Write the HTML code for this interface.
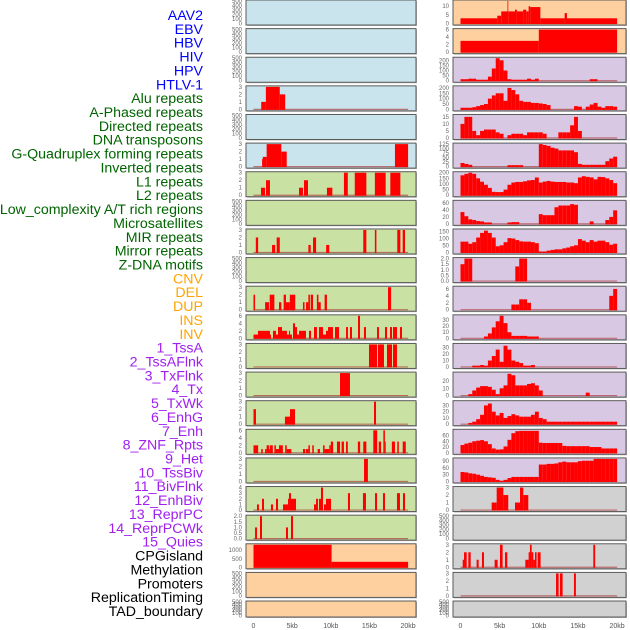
<!DOCTYPE html>
<html><head><meta charset="utf-8">
<style>
html,body{margin:0;padding:0;background:#fff;}
svg{display:block;}
text{font-family:"Liberation Sans",sans-serif;}
</style></head>
<body>
<svg id="chart" width="630" height="630" viewBox="0 0 630 630" xmlns="http://www.w3.org/2000/svg"></svg>
<script>
// ---- labels ----
const labelNames = ["AAV2","EBV","HBV","HIV","HPV","HTLV-1","Alu repeats","A-Phased repeats","Directed repeats","DNA transposons","G-Quadruplex forming repeats","Inverted repeats","L1 repeats","L2 repeats","Low_complexity A/T rich regions","Microsatellites","MIR repeats","Mirror repeats","Z-DNA motifs","CNV","DEL","DUP","INS","INV","1_TssA","2_TssAFlnk","3_TxFlnk","4_Tx","5_TxWk","6_EnhG","7_Enh","8_ZNF_Rpts","9_Het","10_TssBiv","11_BivFlnk","12_EnhBiv","13_ReprPC","14_ReprPCWk","15_Quies","CPGisland","Methylation","Promoters","ReplicationTiming","TAD_boundary"];
const labelGroups = [6,13,5,15,5];
const groupColors = ["#0000ff","#006400","#ffa500","#a020f0","#000000"];

// ---- left column (segments: [startKb, endKb, value]) ----
const leftBg = ["b","b","b","b","b","b","g","g","g","g","g","g","g","g","g","g","g","g","g","o","o","o"];
const leftMax = [500,500,500,3,500,3,3,500,3,500,3,6,3,3,3,6,3,4,2,1320,500,500];
const leftTicks = [[0,100,200,300,400,500],[0,100,200,300,400,500],[0,100,200,300,400,500],[0,1,2,3],[0,100,200,300,400,500],[0,1,2,3],[0,1,2,3],[0,100,200,300,400,500],[0,1,2,3],[0,100,200,300,400,500],[0,1,2,3],[0,2,4,6],[0,1,2,3],[0,1,2,3],[0,1,2,3],[0,2,4,6],[0,1,2,3],[0,1,2,3,4],["0.0","0.5","1.0","1.5","2.0"],[0,500,1000],[0,100,200,300,400,500],[0,100,200,300,400,500]];
const leftSegs = [
 [],[],[],
 [[1.0,1.6,1],[1.6,3.4,3],[3.4,4.1,2]],
 [],
 [[1.1,1.2,1],[1.2,1.7,1.3],[1.7,3.6,3],[3.6,4.3,2],[18.3,20,3]],
 [[0.97,1.49,1],[1.62,2.13,2],[5.89,6.4,1],[6.53,7.05,2],[9.5,10.2,1],[11.7,12.2,3],[13.1,14.6,3],[15.7,17.1,3],[17.7,19.0,3]],
 [],
 [[0.3,0.6,2],[2.4,2.8,1],[3.0,3.4,2],[7.1,7.4,1],[7.7,8.1,2],[9.4,9.8,1],[14.2,14.6,3],[15.7,15.9,3],[18.6,19.0,3],[19.3,19.6,3]],
 [],
 [[0,0.2,2],[1.5,2.0,1],[2.1,2.7,2],[3.3,3.6,1],[3.9,4.2,2],[4.2,4.7,1],[4.7,5.4,2],[6.4,6.6,1],[6.8,7.1,1],[7.1,7.3,2],[7.4,7.7,2],[8.2,8.4,2],[8.4,8.7,1],[9.2,9.5,2],[17.4,17.8,3]],
 [[0,0.58,1],[0.58,1.1,2],[1.1,1.62,2],[1.62,2.13,2],[2.13,2.26,1],[2.52,2.91,2],[2.91,3.17,1],[3.17,3.69,3],[3.69,3.95,2],[3.95,4.33,2],[4.33,4.59,1],[4.59,4.72,2],[4.72,4.98,1],[5.11,5.37,4],[5.37,5.63,3],[5.63,5.89,1],[5.89,6.27,2],[6.27,6.79,2],[7.18,7.44,2],[7.83,8.09,3],[8.09,8.21,3],[8.47,8.73,3],[8.73,8.99,3],[8.99,9.38,1],[9.38,9.64,2],[9.64,9.9,3],[9.9,10.28,3],[10.54,11.06,3],[11.97,12.22,3],[12.48,12.74,3],[13.52,13.78,6],[14.29,14.55,3],[15.98,16.23,3],[17.01,17.27,3],[17.66,17.92,3],[18.05,18.56,3],[18.95,19.21,3]],
 [[14.94,15.98,3],[16.1,16.88,3],[17.27,17.92,3],[18.05,18.56,3]],
 [[11.19,12.48,3]],
 [[0,0.32,2],[4.07,4.72,1],[4.72,5.37,2],[15.59,15.85,3]],
 [[0,0.6,2],[1.0,1.2,1],[1.5,1.7,1],[1.7,2.0,2],[2.0,2.1,1],[2.1,2.5,2],[2.7,2.9,2],[2.9,3.3,1],[3.3,3.8,2],[4.1,4.3,2],[4.3,4.9,1],[6.4,6.7,1],[6.8,7.1,1],[7.1,7.3,2],[7.6,7.8,2],[8.3,8.6,1],[9.0,9.2,2],[9.2,9.8,1],[9.8,10.0,2],[10.0,10.3,3],[10.8,11.2,3],[11.4,11.7,3],[11.97,12.2,3],[13.5,13.8,3],[14.2,14.6,3],[15.5,16.0,6],[16.2,16.5,3],[16.8,17.0,6],[17.0,17.1,3],[17.9,18.3,3],[18.6,18.8,3],[19.3,19.7,3]],
 [[14.3,14.8,3]],
 [[0.45,0.7,1],[1.1,1.36,2],[2.26,2.52,1],[2.91,3.17,2],[3.82,4.46,1],[4.46,4.59,2],[4.59,4.85,3],[4.85,5.5,2],[7.83,8.09,1],[8.09,8.34,2],[8.47,8.73,2],[8.73,8.99,4],[9.12,9.38,1],[9.38,9.64,2],[9.64,10.03,2],[12.22,12.48,3],[14.16,14.55,3],[15.72,15.98,3],[16.75,17.01,3],[18.56,18.95,3],[19.34,19.6,3]],
 [[0.2,0.45,1],[0.84,1.1,2],[4.2,4.46,1],[4.85,5.11,2]],
 [[0,10.1,1320],[10.1,20,320]],
 [],[]
];

// ---- right column ----
const rightBg = ["o","o","p","p","p","p","p","p","p","p","p","p","p","p","p","p","p","x","x","x","x","x"];
const rightMax = [13,6,220,210,16,125,200,65,160,2,6.5,37,35,31,36,78,100,3,500,3,3,500];
const rightTicks = [[0,5,10],[0,2,4,6],[0,50,100,150,200],[0,50,100,150,200],[0,5,10,15],[0,25,50,75,100,125],[0,50,100,150,200],[0,20,40,60],[0,50,100,150],["0.0","0.5","1.0","1.5","2.0"],[0,2,4,6],[0,10,20,30],[0,10,20,30],[0,10,20],[0,10,20,30],[0,20,40,60],[0,30,60,90],[0,1,2,3],[0,100,200,300,400,500],[0,1,2,3],[0,1,2,3],[0,100,200,300,400,500]];
// 0.5kb bins (40 per panel) for density tracks; null = use segments
const rightBins = [
 null,null,
 [15,15,20,20,10,10,10,40,120,220,200,100,15,10,10,10,10,20,10,20,0,0,0,0,0,0,0,0,0,0,0,0,0,15,15,0,0,0,0,0],
 [15,15,15,20,30,40,50,100,130,150,150,80,200,180,140,80,70,70,60,60,55,50,40,0,0,0,0,0,0,30,25,0,25,45,60,25,15,30,30,25],
 [10,15,15,5,2,5,6,6,6,4,3,0,2,3,3,3,2,4,4,4,4,3,0,0,0,4,4,4,9,15,5,0,0,0,0,0,0,0,0,0],
 [20,15,10,0,0,0,0,0,0,0,0,0,8,8,8,8,0,0,0,0,125,120,115,105,100,90,90,90,90,80,15,10,10,10,10,10,10,30,45,55],
 [177,190,200,190,150,120,93,65,30,28,28,50,93,113,118,118,124,132,135,158,113,121,127,121,118,118,118,113,113,107,158,169,163,158,141,163,161,150,135,107],
 [34,22,13,11,8,7,4,4,0,0,0,0,4,5,5,0,0,0,0,0,28,25,25,25,48,53,53,53,57,55,0,0,0,7,0,0,0,11,20,39],
 [77,77,62,73,106,139,155,139,106,44,51,73,102,99,88,79,77,77,73,66,7,7,13,18,22,22,29,35,44,51,95,84,73,88,77,84,84,73,55,62],
 [1.5,2,2,0,0,0,0,0,0,0,0,0,0,0,1.3,2,2,0,0,0,0,0,0,0,0,0,0,0,0,0,0,0,0,0,0,0,0,0,0,0],
 [0,0,0,0,0,0,0,0,0,0,0,0,0,1.5,1.5,3,3,2,0,0,0,0,0,0,0,0,0,0,0,0,0,0,0,0,0,0,0,0,4,6],
 [0,0,0,0,0,0,3,8,18,28,37,25,10,4,4,4,4,3,3,3,0,0,0,0,0,0,0,0,0,0,0,0,0,0,0,0,0,0,0,0],
 [0,0,0,2,2,3,2,10,17,27,8,33,27,10,8,6,2,2,3,0,0,0,0,0,0,0,0,0,0,0,0,0,0,0,0,0,0,0,0,0],
 [0,0,2,7,11,13,13,12,8,2,10,14,30,28,14,14,14,16,17,14,7,0,0,0,0,0,0,0,0,0,0,0,4,0,0,0,0,0,0,0],
 [0,0,2,4,8,15,30,33,20,14,18,10,13,16,14,12,12,12,15,20,10,8,4,4,4,4,4,4,4,4,4,4,4,4,4,4,4,4,4,4],
 [27,32,35,40,42,44,40,30,15,11,12,22,45,68,75,76,76,76,76,76,35,34,34,34,34,34,24,23,23,23,23,23,23,20,20,20,15,15,15,15],
 [42,40,36,34,30,25,20,18,16,7,3,7,15,20,20,20,20,20,20,20,75,75,78,78,80,85,88,85,85,85,90,92,92,92,100,100,100,100,100,100],
 null,null,null,null,null
];
const rightSegs = [
 [[0,4.7,3],[4.7,5.2,4.5],[5.2,6.0,7],[6.0,6.1,13],[6.1,6.96,7],[6.96,7.2,8],[7.2,8.0,7],[8.0,8.4,8],[8.4,8.7,7],[8.7,8.9,10],[8.9,10.2,9.5],[10.2,13.3,3],[13.3,13.6,6],[13.6,20,3]],
 [[0,10.0,3],[10.0,20,6]],
 null,null,null,null,null,null,null,null,null,null,null,null,null,null,null,
 [[3.98,4.62,1],[4.62,5.47,3],[5.47,6.1,2],[6.96,7.6,1],[7.6,8.02,3],[8.02,8.66,2]],
 [],
 [[0.28,0.45,1],[0.45,0.79,2],[1.0,1.3,2],[2.06,2.32,1],[2.74,3.0,2],[4.36,4.74,1],[5.04,5.38,3],[5.68,5.98,2],[8.28,8.7,1],[8.7,8.87,2],[8.87,9.09,3],[9.09,9.3,2],[9.3,9.51,1],[9.51,9.72,2],[9.85,10.23,2],[16.96,17.2,3]],
 [[12.2,12.53,3],[12.7,13.04,3],[14.49,14.74,3]],
 []
];
const xTickKb = [0,5,10,15,20];
const xTickLabels = ["0","5kb","10kb","15kb","20kb"];

// ---- drawing ----
const NS = "http://www.w3.org/2000/svg";
const svg = document.getElementById("chart");
const bgColors = {b:"#c9e4ec",g:"#c9e1a2",o:"#ffd09f",p:"#d9c8e3",x:"#d1d1d1"};
function mk(tag, attrs, parent){const e=document.createElementNS(NS,tag);for(const k in attrs)e.setAttribute(k,attrs[k]);(parent||svg).appendChild(e);return e;}
function rowTop(i){return i*28.62;}
function rowH(i){return i===21?16:25;}
const cols = [
 {x0:246,x1:416,z:253.5,s:7.73,bg:leftBg,max:leftMax,ticks:leftTicks,name:"left"},
 {x0:453,x1:626,z:460.5,s:7.83,bg:rightBg,max:rightMax,ticks:rightTicks,name:"right"}
];

// labels
let li=0;
labelGroups.forEach((n,g)=>{
  for(let k=0;k<n;k++){
    const t=mk("text",{x:203,y:15+li*13.86+5,"text-anchor":"end","font-size":"14.2",fill:groupColors[g]});
    t.textContent=labelNames[li];
    
    
    li++;
  }
});

cols.forEach((c,ci)=>{
  for(let i=0;i<22;i++){
    const top=rowTop(i), h=rowH(i);
    const g=mk("g",{});
    
    
    mk("rect",{x:c.x0+1,y:top+1,width:c.x1-c.x0,height:h,fill:"#bbb"},g);
    mk("rect",{x:c.x0,y:top,width:c.x1-c.x0,height:h,fill:bgColors[c.bg[i]],stroke:"#5a5a5a","stroke-width":1},g);
    const ymax=c.max[i];
    const y0=top+h-1.5, yr=h-2.5;
    const ys=v=>y0-(v/ymax)*yr;
    const xs=kb=>c.z+Math.min(kb,20.2)*c.s;
    let segs=[];
    if(ci===0) segs=leftSegs[i];
    else if(rightBins[i]) segs=rightBins[i].map((v,b)=>[b*0.5,b*0.5+0.5,v]).filter(s=>s[2]>0);
    else segs=rightSegs[i];
    if(segs.length){
      mk("line",{x1:xs(0),x2:xs(20),y1:y0,y2:y0,stroke:"#b04040","stroke-width":1.2,opacity:0.7},g);
    }
    segs.forEach((s,si)=>{
      const r=mk("rect",{x:xs(s[0]),y:ys(s[2]),width:Math.max(0.8,xs(s[1])-xs(s[0])),height:y0-ys(s[2])+0.5,fill:"#ff0000"},g);
      
      
    });
    c.ticks[i].forEach(tv=>{
      const v=parseFloat(tv);
      const t=mk("text",{x:c.x0-4,y:ys(v)+2,"text-anchor":"end","font-size":"6",fill:"#666"},g);
      t.textContent=String(tv);
      
      
    });
  }
  xTickKb.forEach((kb,k)=>{
    const t=mk("text",{x:c.z+kb*c.s,y:628,"text-anchor":"middle","font-size":"7",fill:"#555"});
    t.textContent=xTickLabels[k];
    
    
  });
});
</script>
</body></html>
